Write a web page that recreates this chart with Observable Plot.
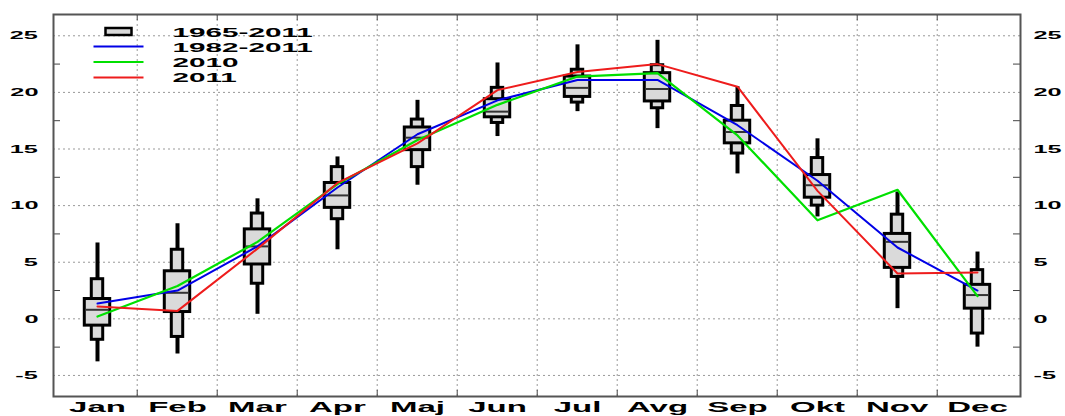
<!DOCTYPE html>
<html><head><meta charset="utf-8">
<script src="https://cdn.jsdelivr.net/npm/d3@7"></script>
<script src="https://cdn.jsdelivr.net/npm/@observablehq/plot@0.6"></script>
<style>body{margin:0;background:#fff}</style>
</head><body><div id="chart"></div>
<script>
// ---- data ----
const months = ["Jan","Feb","Mar","Apr","Maj","Jun","Jul","Avg","Sep","Okt","Nov","Dec"];
// 1965-2011 distribution per month
const minV   = [-3.8, -3.1,  0.4,  6.1, 11.8, 16.1, 18.3, 16.8, 12.8,  9.0,  0.9, -2.5];
const p10    = [-1.85,-1.6,  3.1,  8.8, 13.4, 17.3, 19.1, 18.6, 14.6, 10.0,  3.7, -1.3];
const p25    = [-0.6,  0.6,  4.8,  9.8, 14.9, 17.8, 19.6, 19.2, 15.5, 10.7,  4.5,  0.9];
const median = [ 0.8,  2.3,  6.4, 10.9, 16.0, 18.3, 20.4, 20.3, 16.5, 11.8,  6.8,  2.1];
const p75    = [ 1.75, 4.2,  7.9, 12.0, 16.9, 19.4, 21.4, 21.7, 17.5, 12.7,  7.5,  3.0];
const p90    = [ 3.5,  6.1,  9.3, 13.4, 17.6, 20.4, 22.0, 22.4, 18.8, 14.2,  9.2,  4.3];
const maxV   = [ 6.7,  8.4, 10.6, 14.3, 19.3, 22.6, 24.2, 24.6, 20.5, 15.9, 11.2,  5.9];
// series
const mean1982_2011 = [1.35, 2.5, 6.4, 11.6, 16.3, 19.3, 21.1, 21.1, 17.1, 12.2, 6.3, 2.5];
const year2010      = [0.2,  2.9, 6.8, 11.9, 15.8, 18.9, 21.4, 21.7, 16.2,  8.7, 11.4, 2.0];
const year2011      = [1.1,  0.7, 6.2, 12.0, 15.5, 20.2, 21.8, 22.5, 20.5, 11.3, 4.0, 4.1];
const yTicks = [-5, 0, 5, 10, 15, 20, 25];
const minorTicks = [-2.5, 2.5, 7.5, 12.5, 17.5, 22.5];
const legendLabels = ["1965-2011", "1982-2011", "2010", "2011"];
const seriesColors = ["#0000e6", "#00e000", "#ee1c1c"];

// ---- layout / style ----
const W = 1065, H = 416, mL = 53, mR = 45, mT = 14, mB = 20;
const plotW = W - mL - mR, plotH = H - mT - mB;
const bw = plotW / months.length;
const boxFill = "#dadada";
const gridStyle = {stroke: "#999", strokeDasharray: "2,3", strokeWidth: 1};

const table = months.map((m, i) => ({month: m, min: minV[i], p10: p10[i], p25: p25[i], median: median[i], p75: p75[i], p90: p90[i], max: maxV[i]}));
const seriesArrays = [mean1982_2011, year2010, year2011];
const lineData = seriesArrays.map(arr => months.map((m, i) => ({month: m, value: arr[i]})));

const boxSym = {draw(ctx) { ctx.rect(-13, -3.5, 26, 7); }};
const lineSym = {draw(ctx) { ctx.moveTo(-25, 0); ctx.lineTo(25, 0); }};

const legendMarks = [
  Plot.dot([legendLabels[0]], {frameAnchor: "top-left", dx: 65, dy: 17, symbol: boxSym, fill: boxFill, stroke: "black", strokeWidth: 2.5}),
  ...seriesColors.map((c, i) => Plot.dot([legendLabels[i + 1]], {frameAnchor: "top-left", dx: 65, dy: 32 + i * 15.5, symbol: lineSym, fill: "none", stroke: c, strokeWidth: 2})),
  ...legendLabels.map((l, i) => Plot.text([l], {text: d => d, frameAnchor: "top-left", lineAnchor: "middle", dx: 119, dy: 18 + i * 15, textAnchor: "start", fontSize: 13.5, fontWeight: "bold", fill: "black"}))
];

const chart = Plot.plot({
  width: W, height: H,
  marginLeft: mL, marginRight: mR, marginTop: mT, marginBottom: mB,
  x: {type: "band", domain: months, padding: 0, axis: null},
  y: {domain: [-6.86, 26.88], axis: null},
  style: {background: "#fff", fontFamily: "'Liberation Sans', Arial, sans-serif", color: "black"},
  marks: [
    Plot.ruleY(yTicks, {y: d => d, ...gridStyle}),
    Plot.ruleX(months.slice(1), {x: d => d, dx: -bw / 2, ...gridStyle}),
    Plot.ruleY(minorTicks, {y: d => d, insetRight: plotW - 7, stroke: "#444"}),
    Plot.ruleY(minorTicks, {y: d => d, insetLeft: plotW - 7, stroke: "#444"}),
    Plot.ruleX(months.slice(1), {x: d => d, dx: -bw / 2, insetBottom: plotH - 6, stroke: "#444"}),
    Plot.ruleX(months.slice(1), {x: d => d, dx: -bw / 2, insetTop: plotH - 6, stroke: "#444"}),
    Plot.ruleX(table, {x: "month", y1: "min", y2: "max", stroke: "black", strokeWidth: 4}),
    Plot.barY(table, {x: "month", y1: "p10", y2: "p90", insetLeft: (bw - 12) / 2, insetRight: (bw - 12) / 2, fill: boxFill, stroke: "black", strokeWidth: 3}),
    Plot.barY(table, {x: "month", y1: "p25", y2: "p75", insetLeft: (bw - 26) / 2, insetRight: (bw - 26) / 2, fill: boxFill, stroke: "black", strokeWidth: 3}),
    Plot.tickY(table, {x: "month", y: "median", insetLeft: (bw - 26) / 2 + 1, insetRight: (bw - 26) / 2 + 1, stroke: "#333", strokeWidth: 2}),
    Plot.line(lineData[0], {x: "month", y: "value", stroke: seriesColors[0], strokeWidth: 2}),
    Plot.line(lineData[1], {x: "month", y: "value", stroke: seriesColors[1], strokeWidth: 2.2}),
    Plot.line(lineData[2], {x: "month", y: "value", stroke: seriesColors[2], strokeWidth: 2}),
    Plot.frame({stroke: "#555", strokeWidth: 2}),
    Plot.text(yTicks, {y: d => d, text: d => String(d), frameAnchor: "left", lineAnchor: "middle", dx: -15, textAnchor: "end", fontSize: 11.5, fontWeight: "bold", fill: "black"}),
    Plot.text(yTicks, {y: d => d, text: d => String(d), frameAnchor: "right", lineAnchor: "middle", dx: 13, textAnchor: "start", fontSize: 11.5, fontWeight: "bold", fill: "black"}),
    Plot.text(months, {x: d => d, text: d => d, frameAnchor: "bottom", lineAnchor: "middle", dy: 10.5, fontSize: 15, fontWeight: "bold", fill: "black"}),
    ...legendMarks
  ]
});
document.getElementById("chart").appendChild(chart);

// stretch label glyphs horizontally like the reference, keeping each label's anchor in place
const svg = chart.tagName.toLowerCase() === "svg" ? chart : chart.querySelector("svg");
const NS = "http://www.w3.org/2000/svg";
const texts = Array.from(svg.querySelectorAll("text"));
texts.forEach(t => {
  const r = t.getBoundingClientRect();
  const anchor = getComputedStyle(t).textAnchor;
  const sx = anchor === "end" ? r.right : anchor === "middle" ? (r.left + r.right) / 2 : r.left;
  const parent = t.parentNode;
  const p = svg.createSVGPoint();
  p.x = sx; p.y = r.top;
  const q = p.matrixTransform(parent.getScreenCTM().inverse());
  const g = document.createElementNS(NS, "g");
  g.setAttribute("transform", `translate(${q.x},0) scale(2.2,1) translate(${-q.x},0)`);
  parent.insertBefore(g, t);
  g.appendChild(t);
});
</script>
</body></html>
